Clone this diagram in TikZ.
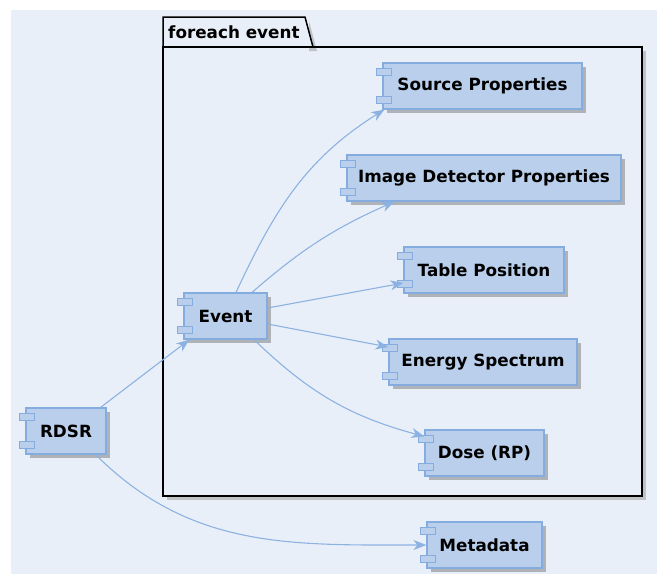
\documentclass[tikz,border=0pt]{standalone}
\usepackage{fontspec}
\setmainfont{DejaVu Sans}
\usetikzlibrary{arrows.meta,shadows,calc}
\definecolor{bgc}{RGB}{233,239,248}
\definecolor{compfill}{RGB}{185,207,235}
\definecolor{compline}{RGB}{132,172,222}
\definecolor{arrowc}{RGB}{140,178,226}
\tikzset{
  comp/.style={draw=compline, line width=1.2pt, fill=compfill, minimum height=46pt,
    inner sep=0pt, font=\fontsize{16.8}{20}\selectfont\bfseries,
    general shadow={fill=black!50, opacity=0.55, shadow xshift=4pt, shadow yshift=-4pt}},
  notchbox/.style={draw=compline, line width=1pt, fill=compfill},
  conn/.style={draw=arrowc, line width=1.1pt, -{Stealth[length=13pt,width=10pt,inset=4pt]}},
}
\begin{document}
\begin{tikzpicture}[x=1pt,y=1pt]
\useasboundingbox (0,0) rectangle (657,-574);
\fill[bgc] (11,-10) rectangle (657,-574);
% package shadow
\fill[black!35, opacity=0.6] (167,-51) rectangle (646,-500);
\fill[bgc] (163,-47) rectangle (642,-496);
\fill[black!35, opacity=0.6] (309,-21) -- (317,-51) -- (309,-51) -- cycle;
% package frame
\draw[line width=1.5pt, fill=bgc] (163,-47) -- (163,-17) -- (305,-17) -- (313,-47) -- cycle;
\draw[line width=1.5pt] (163,-47) rectangle (642,-496);
\node[anchor=base west, font=\fontsize{16.8}{20}\selectfont\bfseries, inner sep=0pt] (pkg) at (168,-38) {foreach event};
% components
\node[comp, minimum width=199pt] (src) at (482.5,-86) {Source Properties};
\node[comp, minimum width=274pt] (img) at (484,-178) {Image Detector Properties};
\node[comp, minimum width=160pt] (tab) at (484,-270) {Table Position};
\node[comp, minimum width=188pt] (eng) at (483,-362) {Energy Spectrum};
\node[comp, minimum width=119pt] (dose) at (484.5,-453) {Dose (RP)};
\node[comp, minimum width=115pt] (meta) at (484.5,-545) {Metadata};
\node[comp, minimum width=83pt] (event) at (225.5,-316) {Event};
\node[comp, minimum width=80pt] (rdsr) at (66,-431) {RDSR};
\foreach \n in {src,img,tab,eng,dose,meta,event,rdsr}{
  \draw[notchbox] ($(\n.north west)+(-6,-6.5)$) rectangle ++(15,-7);
  \draw[notchbox] ($(\n.south west)+(-6,6.5)$) rectangle ++(15,7);
}
% connectors
\draw[conn] ($(rdsr.north east)+(-6,0)$) -- ($(event.south west)+(6,0)$);
\draw[conn] ($(rdsr.south east)+(-11,0)$) to[out=-45,in=180] (meta.west);
\draw[conn] ($(event.north)+(10.5,0)$) to[out=65,in=212] ($(src.south west)+(2,0)$);
\draw[conn] ($(event.north)+(26.5,0)$) to[out=41,in=204] ($(img.south west)+(48,0)$);
\draw[conn] ($(event.east)+(0,8)$) -- ($(tab.west)+(0,-13)$);
\draw[conn] ($(event.east)+(0,-8)$) -- ($(eng.west)+(0,15)$);
\draw[conn] ($(event.south)+(28.5,0)$) to[out=-44,in=165] ($(dose.north west)+(0,-7)$);
\end{tikzpicture}
\end{document}
